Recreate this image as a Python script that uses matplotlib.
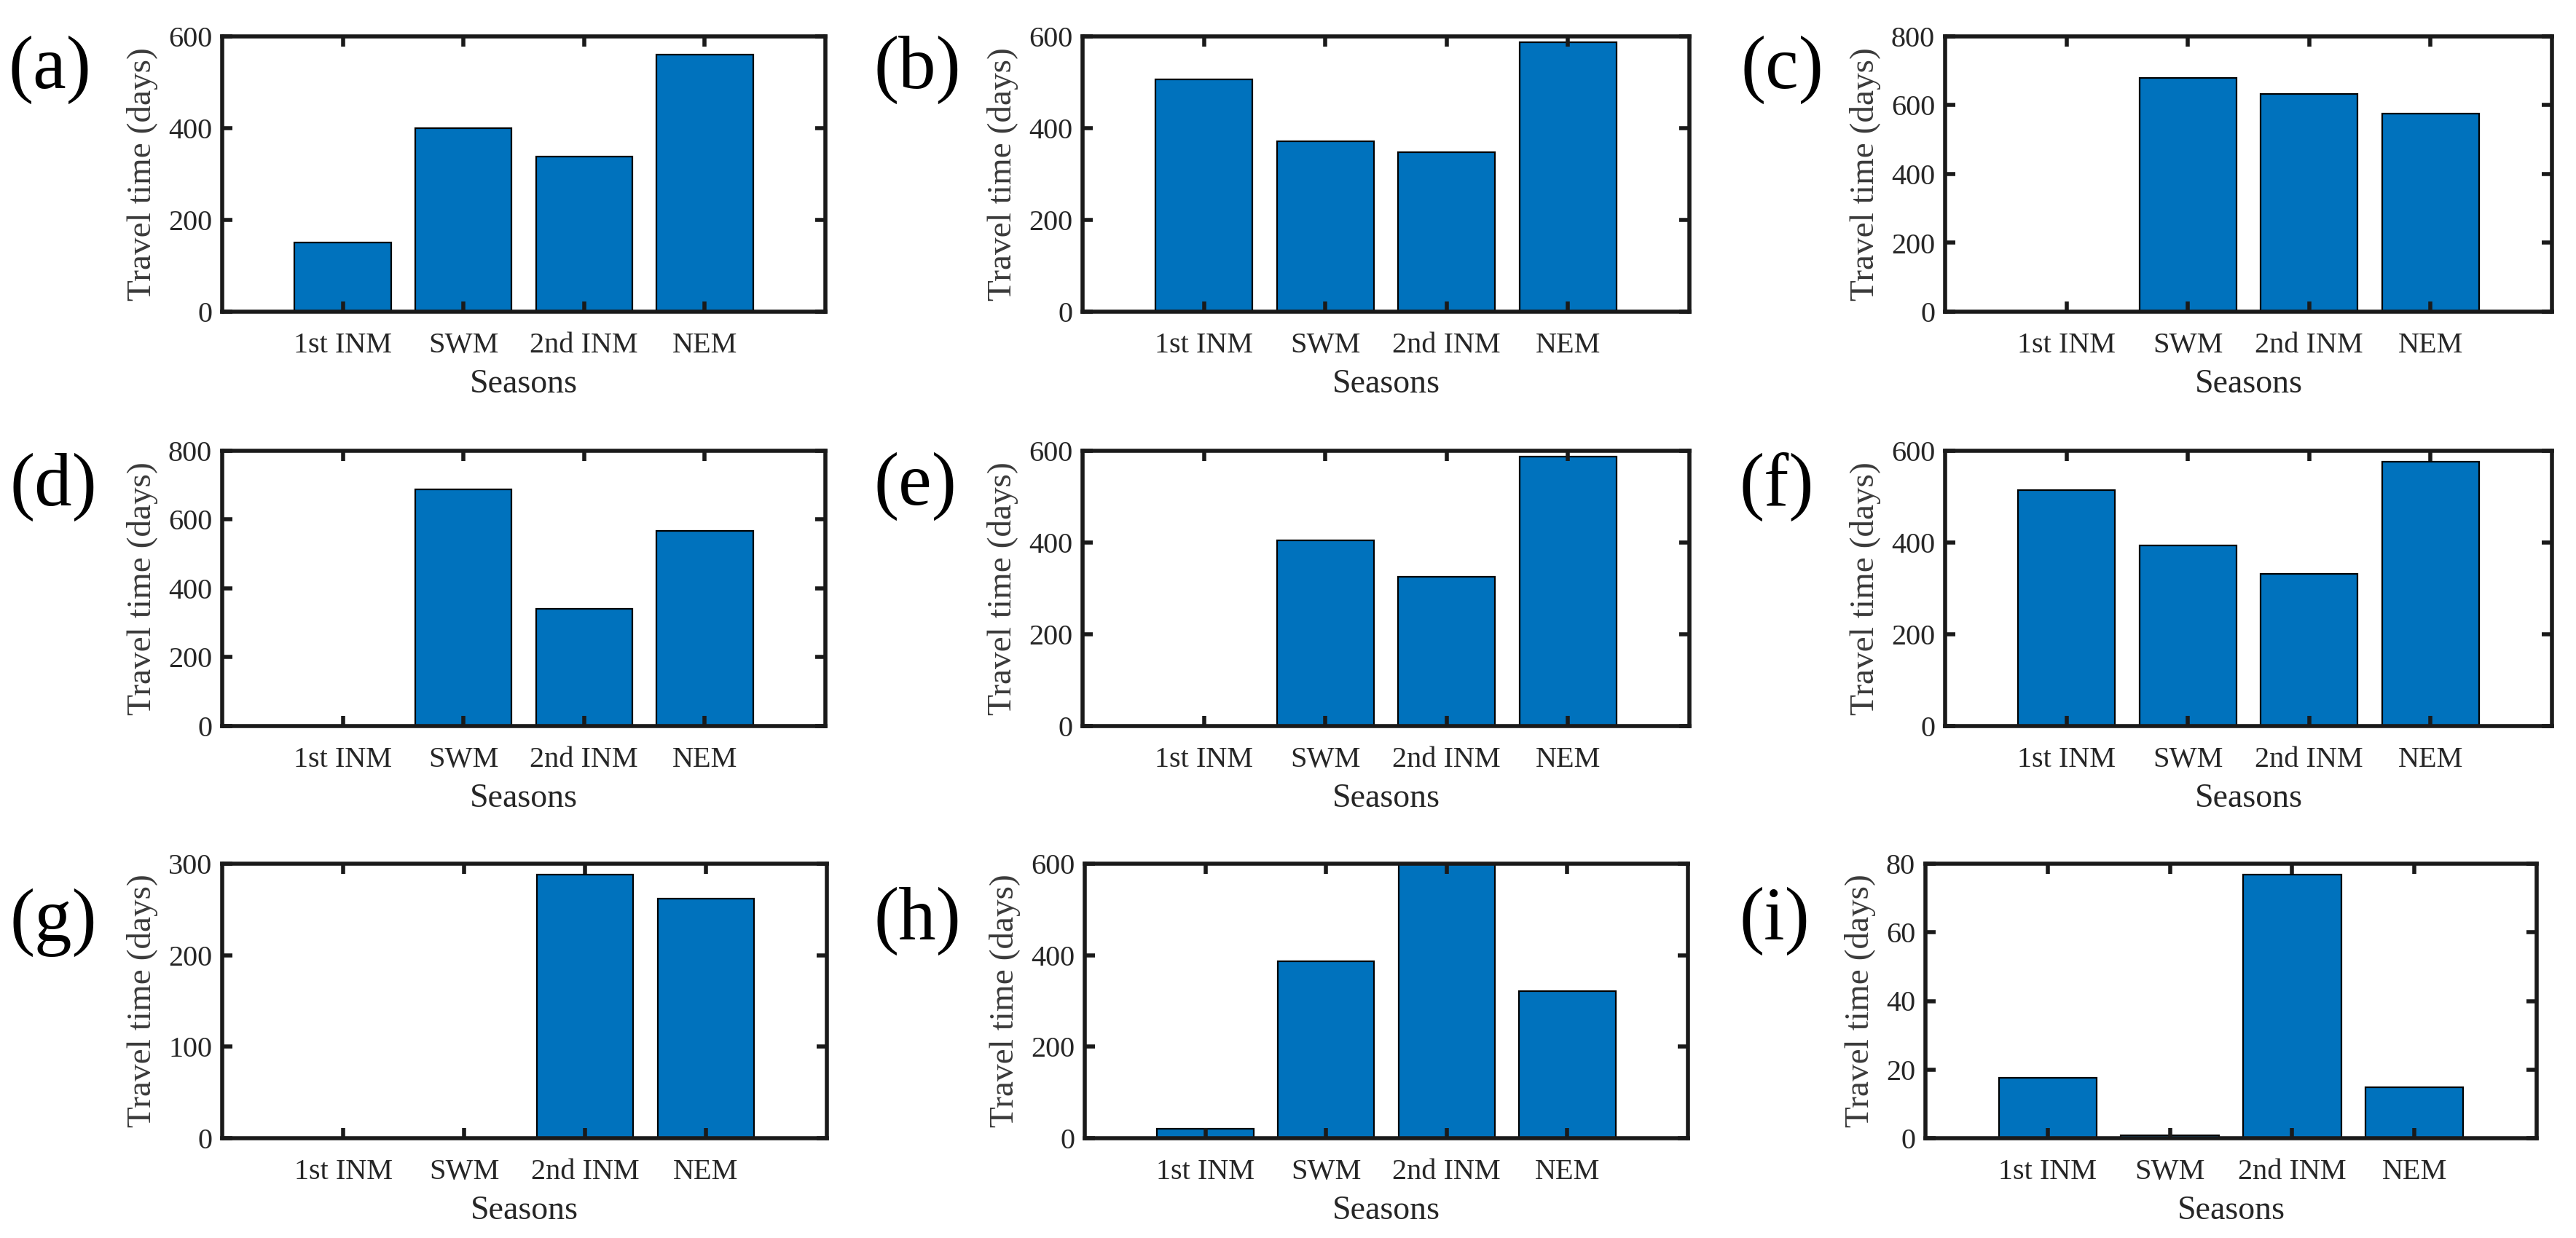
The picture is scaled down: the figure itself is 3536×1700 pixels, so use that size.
import matplotlib
matplotlib.use("Agg")
import matplotlib.pyplot as plt
import numpy as np

plt.rcParams['font.family'] = ['Liberation Serif', 'DejaVu Serif']

seasons = ["1st INM", "SWM", "2nd INM", "NEM"]
panel_labels = ["(a)", "(b)", "(c)", "(d)", "(e)", "(f)", "(g)", "(h)", "(i)"]

vals_a = [150, 400, 338, 560]
vals_b = [506, 371, 347, 587]
vals_c = [0, 680, 632, 575]
vals_d = [0, 688, 341, 567]
vals_e = [0, 405, 325, 588]
vals_f = [515, 394, 331, 576]
vals_g = [0, 0, 288, 262]
vals_h = [21, 386, 598, 322]
vals_i = [17.6, 0.9, 76.9, 14.9]
all_vals = [vals_a, vals_b, vals_c, vals_d, vals_e, vals_f, vals_g, vals_h, vals_i]

ymax = [600, 600, 800, 800, 600, 600, 300, 600, 80]
ystep = [200, 200, 200, 200, 200, 200, 100, 200, 20]

W, H = 3536, 1700
DPI = 200
fig = plt.figure(figsize=(W / DPI, H / DPI), dpi=DPI)

# axes rectangles in pixels: left, top, right, bottom
rects = [
    (305, 50, 1133, 428), (1486, 50, 2319, 428), (2670, 50, 3503, 428),
    (305, 619, 1133, 997), (1486, 619, 2319, 997), (2670, 619, 3503, 997),
    (305, 1186, 1135, 1563), (1489, 1186, 2317, 1563), (2643, 1186, 3482, 1563),
]
label_pos = [
    (12, 96), (1200, 96), (2390, 96),
    (14, 669), (1200, 668), (2387, 668),
    (14, 1267), (1200, 1265), (2387, 1265),
]

bar_color = "#0072BD"
txt_color = "#262626"

x = np.arange(1, len(seasons) + 1)
for k in range(9):
    l, t, r, b = rects[k]
    ax = fig.add_axes([l / W, 1 - b / H, (r - l) / W, (b - t) / H])
    ax.bar(x, all_vals[k], width=0.8, color=bar_color, edgecolor="black", linewidth=0.8)
    ax.set_xlim(0, 5)
    ax.set_ylim(0, ymax[k])
    ax.set_xticks(x)
    ax.set_xticklabels(seasons)
    ax.set_yticks(np.arange(0, ymax[k] + ystep[k] / 2, ystep[k]))
    ax.tick_params(axis="both", which="major", direction="in", top=True, right=True,
                   length=5, width=2, colors="#1a1a1a", labelcolor=txt_color,
                   labelsize=14.5)
    ax.tick_params(axis="x", pad=10)
    ax.tick_params(axis="y", pad=5)
    for s in ax.spines.values():
        s.set_linewidth(2.0)
        s.set_color("#1a1a1a")
    ax.set_xlabel("Seasons", fontsize=16.5, color=txt_color, labelpad=5)
    ax.set_ylabel("Travel time (days)", fontsize=17, color="#3a3a3a", labelpad=5)
    fig.text(label_pos[k][0] / W, 1 - label_pos[k][1] / H, panel_labels[k],
             fontsize=37, ha="left", va="center", color="black")

fig.savefig("out.png", dpi=DPI, facecolor="white")
